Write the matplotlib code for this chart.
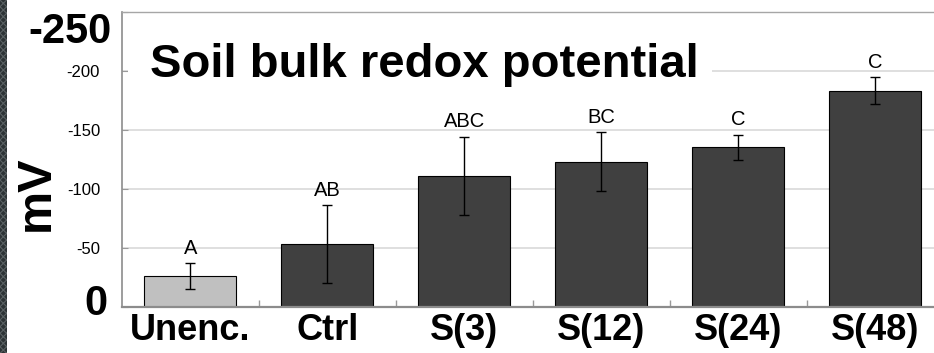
import matplotlib
matplotlib.use('Agg')
import matplotlib.pyplot as plt
from matplotlib.patches import Rectangle

# Soil bulk redox potential per treatment (mV), with standard errors
categories = ['Unenc.', 'Ctrl', 'S(3)', 'S(12)', 'S(24)', 'S(48)']
redox_mv = [-26, -53, -111, -123, -135, -183]
redox_err = [11, 33, 33, 25, 10.5, 11.5]
groups = ['A', 'AB', 'ABC', 'BC', 'C', 'C']
y_ticks = [0, -50, -100, -150, -200, -250]

plt.rcParams['font.family'] = ['Liberation Sans', 'DejaVu Sans']
plt.rcParams['axes.unicode_minus'] = False
plt.rcParams['hatch.linewidth'] = 0.8

W, H, DPI = 934, 353, 100
fig = plt.figure(figsize=(W / DPI, H / DPI), dpi=DPI)

# plot frame edges in pixels (the right edge runs past the canvas)
L, R, T, B = 121.7, 943.6, 11.5, 307.0
ax = fig.add_axes([L / W, 1 - B / H, (R - L) / W, (B - T) / H])

x = list(range(len(categories)))
colors = ['#c0c0c0'] + ['#404040'] * (len(categories) - 1)
ax.bar(x, redox_mv, width=0.674, color=colors, edgecolor='black',
       linewidth=0.8, zorder=2)
ax.errorbar(x, redox_mv, yerr=redox_err, fmt='none', ecolor='black',
            elinewidth=1.0, capsize=3.6, capthick=1.0, zorder=3)
for i, (v, e, g) in enumerate(zip(redox_mv, redox_err, groups)):
    ax.annotate(g, (i, v - e), xytext=(0, 4), textcoords='offset points',
                ha='center', va='bottom', fontsize=14.5, zorder=4)

ax.set_xlim(-0.5, len(categories) - 0.5)
ax.set_ylim(0, -250)

# y axis: small labels inside, the extremes drawn large separately
ax.set_yticks(y_ticks)
ax.set_yticklabels(['' if t in (0, -250) else str(t) for t in y_ticks])
ax.tick_params(axis='y', direction='in', length=4, color='#9a9a9a',
               labelsize=12, pad=15.6)
ax.yaxis.grid(True, color='#d9d9d9', linewidth=1.2)
ax.set_axisbelow(True)

# x axis: category names centred on bars, small ticks between categories
ax.set_xticks(x)
ax.set_xticklabels(categories, fontsize=26, fontweight='bold')
ax.tick_params(axis='x', which='major', length=0, pad=4.5)
ax.set_xticks([i + 0.5 for i in x[:-1]], minor=True)
ax.tick_params(axis='x', which='minor', direction='in', length=5,
               color='#9a9a9a', width=1.0)

for side in ('left', 'bottom', 'top'):
    ax.spines[side].set_color('#8c8c8c')
ax.spines['left'].set_linewidth(1.2)
ax.spines['bottom'].set_linewidth(1.6)
ax.spines['top'].set_linewidth(1.0)
ax.spines['top'].set_color('#a6a6a6')
ax.spines['right'].set_visible(False)

# white backing behind the title, hiding the gridline under it
ax.add_patch(Rectangle(((128 - L) / (R - L), (B - 95) / (B - T)),
                       (712 - 128) / (R - L), (95 - 35) / (B - T),
                       transform=ax.transAxes, facecolor='white',
                       edgecolor='none', zorder=1))

fig.text(150 / W, 1 - 76.7 / H, 'Soil bulk redox potential', fontsize=34,
         fontweight='bold', ha='left', va='baseline')
fig.text(111.7 / W, 1 - 43 / H, str(y_ticks[-1]), fontsize=30,
         fontweight='bold', ha='right', va='baseline')
fig.text(108 / W, 1 - 315 / H, str(y_ticks[0]), fontsize=30,
         fontweight='bold', ha='right', va='baseline')
fig.text(36.5 / W, 1 - 193.5 / H, 'mV', fontsize=35, fontweight='bold',
         rotation=90, ha='center', va='center')

# dark textured strip along the left edge
fig.add_artist(Rectangle((0, 0), 7 / W, 1, transform=fig.transFigure,
                         facecolor='#2c3335', edgecolor='#586062',
                         hatch='xxxxx', linewidth=0))

fig.savefig('out.png', dpi=DPI)
